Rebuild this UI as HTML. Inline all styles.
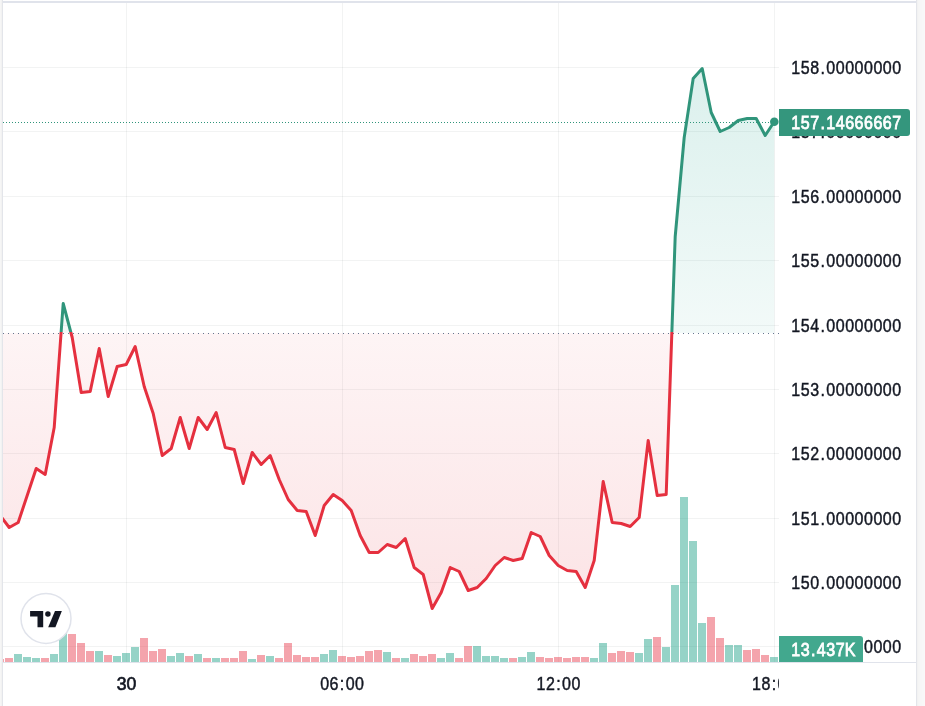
<!DOCTYPE html>
<html><head><meta charset="utf-8"><title>Chart</title>
<style>
html,body{margin:0;padding:0;background:#f7f7f7;width:925px;height:706px;overflow:hidden}
svg{display:block;will-change:transform}
text{font-family:"Liberation Sans",Arial,sans-serif}
</style></head><body>
<svg width="925" height="706" viewBox="0 0 925 706" shape-rendering="auto">
<defs>
<linearGradient id="fillg" gradientUnits="userSpaceOnUse" x1="0" y1="3" x2="0" y2="662">
<stop offset="0" stop-color="rgba(8,153,129,0.17)"/>
<stop offset="0.5008" stop-color="rgba(8,153,129,0.05)"/>
<stop offset="0.5008" stop-color="rgba(229,48,63,0.05)"/>
<stop offset="1" stop-color="rgba(229,48,63,0.15)"/>
</linearGradient>
<linearGradient id="lineg" gradientUnits="userSpaceOnUse" x1="0" y1="3" x2="0" y2="662">
<stop offset="0" stop-color="#30957b"/>
<stop offset="0.5000" stop-color="#30957b"/>
<stop offset="0.5000" stop-color="#e5303f"/>
<stop offset="1" stop-color="#e5303f"/>
</linearGradient>
<clipPath id="pane"><rect x="3" y="3" width="776" height="659"/></clipPath>
<clipPath id="taxis"><rect x="3" y="663" width="776" height="43"/></clipPath>
</defs>
<rect x="2" y="0" width="915" height="706" fill="#ffffff"/>
<rect x="2" y="1" width="915" height="2" fill="#e0e3eb"/>
<rect x="2" y="0" width="1" height="706" fill="#e3e5ea"/>
<rect x="916" y="0" width="1" height="706" fill="#e3e5ea"/>
<rect x="0" y="0" width="1" height="706" fill="#f6f6f6"/>
<rect x="1" y="0" width="1" height="706" fill="#f2f2f2"/>
<rect x="917" y="0" width="1" height="706" fill="#f2f2f2"/>
<rect x="918" y="0" width="1" height="706" fill="#f5f5f5"/>
<rect x="919" y="0" width="1" height="706" fill="#f6f6f6"/>
<rect x="920" y="0" width="2" height="706" fill="#f7f7f7"/>
<rect x="922" y="0" width="2" height="706" fill="#f8f8f8"/>
<rect x="924" y="0" width="1" height="706" fill="#f9f9f9"/>
<g clip-path="url(#pane)">

<rect x="3" y="67" width="776" height="1" fill="rgba(42,46,57,0.06)"/>
<rect x="3" y="131" width="776" height="1" fill="rgba(42,46,57,0.06)"/>
<rect x="3" y="196" width="776" height="1" fill="rgba(42,46,57,0.06)"/>
<rect x="3" y="260" width="776" height="1" fill="rgba(42,46,57,0.06)"/>
<rect x="3" y="325" width="776" height="1" fill="rgba(42,46,57,0.06)"/>
<rect x="3" y="389" width="776" height="1" fill="rgba(42,46,57,0.06)"/>
<rect x="3" y="453" width="776" height="1" fill="rgba(42,46,57,0.06)"/>
<rect x="3" y="518" width="776" height="1" fill="rgba(42,46,57,0.06)"/>
<rect x="3" y="582" width="776" height="1" fill="rgba(42,46,57,0.06)"/>
<rect x="3" y="646" width="776" height="1" fill="rgba(42,46,57,0.06)"/>
<rect x="126" y="3" width="1" height="659" fill="rgba(42,46,57,0.06)"/>
<rect x="342" y="3" width="1" height="659" fill="rgba(42,46,57,0.06)"/>
<rect x="558" y="3" width="1" height="659" fill="rgba(42,46,57,0.06)"/>
<rect x="774" y="3" width="1" height="659" fill="rgba(42,46,57,0.06)"/>
<path d="M0.20,333.0 L0.20,515.50 L9.20,527.50 L18.20,522.50 L27.20,495.50 L36.20,468.50 L45.20,474.50 L54.20,427.50 L63.20,303.50 L72.20,337.50 L81.20,392.50 L90.20,391.50 L99.20,348.50 L108.20,396.50 L117.20,366.50 L126.20,364.50 L135.20,346.50 L144.20,386.50 L153.20,413.50 L162.20,455.50 L171.20,448.50 L180.20,417.50 L189.20,448.50 L198.20,417.50 L207.20,429.50 L216.20,412.50 L225.20,447.50 L234.20,449.50 L243.20,483.50 L252.20,452.50 L261.20,464.50 L270.20,455.50 L279.20,479.50 L288.20,499.50 L297.20,510.50 L306.20,511.50 L315.20,535.50 L324.20,505.50 L333.20,494.50 L342.20,500.50 L351.20,510.50 L360.20,535.50 L369.20,552.50 L378.20,552.50 L387.20,544.50 L396.20,547.50 L405.20,538.50 L414.20,567.50 L423.20,574.50 L432.20,608.50 L441.20,592.50 L450.20,567.50 L459.20,571.50 L468.20,590.50 L477.20,587.50 L486.20,578.50 L495.20,565.50 L504.20,557.50 L513.20,560.50 L522.20,558.50 L531.20,532.50 L540.20,536.50 L549.20,555.50 L558.20,565.50 L567.20,570.50 L576.20,571.50 L585.20,587.50 L594.20,560.50 L603.20,481.50 L612.20,522.50 L621.20,523.50 L630.20,526.50 L639.20,517.50 L648.20,440.50 L657.20,495.50 L666.20,494.50 L675.20,236.50 L684.20,137.50 L693.20,78.50 L702.20,68.50 L711.20,112.50 L720.20,131.50 L729.20,127.50 L738.20,120.50 L747.20,118.50 L756.20,118.50 L765.20,135.50 L774.20,121.70 L774.20,333.0 Z" fill="url(#fillg)"/>
<rect x="-4" y="659" width="8" height="3" fill="rgba(231,53,71,0.45)"/>
<rect x="5" y="658" width="8" height="4" fill="rgba(231,53,71,0.45)"/>
<rect x="14" y="654" width="8" height="8" fill="rgba(22,157,131,0.45)"/>
<rect x="23" y="657" width="8" height="5" fill="rgba(22,157,131,0.45)"/>
<rect x="32" y="658" width="8" height="4" fill="rgba(22,157,131,0.45)"/>
<rect x="41" y="658" width="8" height="4" fill="rgba(231,53,71,0.45)"/>
<rect x="50" y="654" width="8" height="8" fill="rgba(22,157,131,0.45)"/>
<rect x="59" y="628" width="8" height="34" fill="rgba(22,157,131,0.45)"/>
<rect x="68" y="634" width="8" height="28" fill="rgba(231,53,71,0.45)"/>
<rect x="77" y="643" width="8" height="19" fill="rgba(231,53,71,0.45)"/>
<rect x="86" y="651" width="8" height="11" fill="rgba(231,53,71,0.45)"/>
<rect x="95" y="651" width="8" height="11" fill="rgba(22,157,131,0.45)"/>
<rect x="104" y="655" width="8" height="7" fill="rgba(231,53,71,0.45)"/>
<rect x="113" y="656" width="8" height="6" fill="rgba(22,157,131,0.45)"/>
<rect x="122" y="653" width="8" height="9" fill="rgba(22,157,131,0.45)"/>
<rect x="131" y="647" width="8" height="15" fill="rgba(22,157,131,0.45)"/>
<rect x="140" y="638" width="8" height="24" fill="rgba(231,53,71,0.45)"/>
<rect x="149" y="651" width="8" height="11" fill="rgba(231,53,71,0.45)"/>
<rect x="158" y="649" width="8" height="13" fill="rgba(231,53,71,0.45)"/>
<rect x="167" y="656" width="8" height="6" fill="rgba(22,157,131,0.45)"/>
<rect x="176" y="653" width="8" height="9" fill="rgba(22,157,131,0.45)"/>
<rect x="185" y="656" width="8" height="6" fill="rgba(231,53,71,0.45)"/>
<rect x="194" y="654" width="8" height="8" fill="rgba(22,157,131,0.45)"/>
<rect x="203" y="658" width="8" height="4" fill="rgba(231,53,71,0.45)"/>
<rect x="212" y="658" width="8" height="4" fill="rgba(22,157,131,0.45)"/>
<rect x="221" y="658" width="8" height="4" fill="rgba(231,53,71,0.45)"/>
<rect x="230" y="658" width="8" height="4" fill="rgba(231,53,71,0.45)"/>
<rect x="239" y="651" width="8" height="11" fill="rgba(231,53,71,0.45)"/>
<rect x="248" y="659" width="8" height="3" fill="rgba(22,157,131,0.45)"/>
<rect x="257" y="655" width="8" height="7" fill="rgba(231,53,71,0.45)"/>
<rect x="266" y="656" width="8" height="6" fill="rgba(22,157,131,0.45)"/>
<rect x="275" y="658" width="8" height="4" fill="rgba(231,53,71,0.45)"/>
<rect x="284" y="643" width="8" height="19" fill="rgba(231,53,71,0.45)"/>
<rect x="293" y="655" width="8" height="7" fill="rgba(231,53,71,0.45)"/>
<rect x="302" y="657" width="8" height="5" fill="rgba(231,53,71,0.45)"/>
<rect x="311" y="657" width="8" height="5" fill="rgba(231,53,71,0.45)"/>
<rect x="320" y="654" width="8" height="8" fill="rgba(22,157,131,0.45)"/>
<rect x="329" y="650" width="8" height="12" fill="rgba(22,157,131,0.45)"/>
<rect x="338" y="656" width="8" height="6" fill="rgba(231,53,71,0.45)"/>
<rect x="347" y="657" width="8" height="5" fill="rgba(231,53,71,0.45)"/>
<rect x="356" y="656" width="8" height="6" fill="rgba(231,53,71,0.45)"/>
<rect x="365" y="651" width="8" height="11" fill="rgba(231,53,71,0.45)"/>
<rect x="374" y="650" width="8" height="12" fill="rgba(231,53,71,0.45)"/>
<rect x="383" y="652" width="8" height="10" fill="rgba(22,157,131,0.45)"/>
<rect x="392" y="658" width="8" height="4" fill="rgba(231,53,71,0.45)"/>
<rect x="401" y="658" width="8" height="4" fill="rgba(22,157,131,0.45)"/>
<rect x="410" y="654" width="8" height="8" fill="rgba(231,53,71,0.45)"/>
<rect x="419" y="656" width="8" height="6" fill="rgba(231,53,71,0.45)"/>
<rect x="428" y="654" width="8" height="8" fill="rgba(231,53,71,0.45)"/>
<rect x="437" y="658" width="8" height="4" fill="rgba(22,157,131,0.45)"/>
<rect x="446" y="653" width="8" height="9" fill="rgba(22,157,131,0.45)"/>
<rect x="455" y="658" width="8" height="4" fill="rgba(231,53,71,0.45)"/>
<rect x="464" y="646" width="8" height="16" fill="rgba(231,53,71,0.45)"/>
<rect x="473" y="646" width="8" height="16" fill="rgba(22,157,131,0.45)"/>
<rect x="482" y="656" width="8" height="6" fill="rgba(22,157,131,0.45)"/>
<rect x="491" y="656" width="8" height="6" fill="rgba(22,157,131,0.45)"/>
<rect x="500" y="658" width="8" height="4" fill="rgba(22,157,131,0.45)"/>
<rect x="509" y="658" width="8" height="4" fill="rgba(231,53,71,0.45)"/>
<rect x="518" y="657" width="8" height="5" fill="rgba(22,157,131,0.45)"/>
<rect x="527" y="652" width="8" height="10" fill="rgba(22,157,131,0.45)"/>
<rect x="536" y="657" width="8" height="5" fill="rgba(231,53,71,0.45)"/>
<rect x="545" y="658" width="8" height="4" fill="rgba(231,53,71,0.45)"/>
<rect x="554" y="657" width="8" height="5" fill="rgba(231,53,71,0.45)"/>
<rect x="563" y="658" width="8" height="4" fill="rgba(231,53,71,0.45)"/>
<rect x="572" y="657" width="8" height="5" fill="rgba(231,53,71,0.45)"/>
<rect x="581" y="657" width="8" height="5" fill="rgba(231,53,71,0.45)"/>
<rect x="590" y="658" width="8" height="4" fill="rgba(22,157,131,0.45)"/>
<rect x="599" y="643" width="8" height="19" fill="rgba(22,157,131,0.45)"/>
<rect x="608" y="653" width="8" height="9" fill="rgba(231,53,71,0.45)"/>
<rect x="617" y="651" width="8" height="11" fill="rgba(231,53,71,0.45)"/>
<rect x="626" y="652" width="8" height="10" fill="rgba(231,53,71,0.45)"/>
<rect x="635" y="653" width="8" height="9" fill="rgba(22,157,131,0.45)"/>
<rect x="644" y="639" width="8" height="23" fill="rgba(22,157,131,0.45)"/>
<rect x="653" y="637" width="8" height="25" fill="rgba(231,53,71,0.45)"/>
<rect x="662" y="647" width="8" height="15" fill="rgba(22,157,131,0.45)"/>
<rect x="671" y="585" width="8" height="77" fill="rgba(22,157,131,0.45)"/>
<rect x="680" y="497" width="8" height="165" fill="rgba(22,157,131,0.45)"/>
<rect x="689" y="541" width="8" height="121" fill="rgba(22,157,131,0.45)"/>
<rect x="698" y="623" width="8" height="39" fill="rgba(22,157,131,0.45)"/>
<rect x="707" y="617" width="8" height="45" fill="rgba(231,53,71,0.45)"/>
<rect x="716" y="638" width="8" height="24" fill="rgba(231,53,71,0.45)"/>
<rect x="725" y="645" width="8" height="17" fill="rgba(22,157,131,0.45)"/>
<rect x="734" y="645" width="8" height="17" fill="rgba(22,157,131,0.45)"/>
<rect x="743" y="650" width="8" height="12" fill="rgba(231,53,71,0.45)"/>
<rect x="752" y="649" width="8" height="13" fill="rgba(231,53,71,0.45)"/>
<rect x="761" y="655" width="8" height="7" fill="rgba(231,53,71,0.45)"/>
<rect x="770" y="657" width="8" height="5" fill="rgba(22,157,131,0.45)"/>
<path d="M3,333h1v1h-1zM8,333h1v1h-1zM13,333h1v1h-1zM18,333h1v1h-1zM23,333h1v1h-1zM28,333h1v1h-1zM33,333h1v1h-1zM38,333h1v1h-1zM43,333h1v1h-1zM48,333h1v1h-1zM53,333h1v1h-1zM58,333h1v1h-1zM63,333h1v1h-1zM68,333h1v1h-1zM73,333h1v1h-1zM78,333h1v1h-1zM83,333h1v1h-1zM88,333h1v1h-1zM93,333h1v1h-1zM98,333h1v1h-1zM103,333h1v1h-1zM108,333h1v1h-1zM113,333h1v1h-1zM118,333h1v1h-1zM123,333h1v1h-1zM128,333h1v1h-1zM133,333h1v1h-1zM138,333h1v1h-1zM143,333h1v1h-1zM148,333h1v1h-1zM153,333h1v1h-1zM158,333h1v1h-1zM163,333h1v1h-1zM168,333h1v1h-1zM173,333h1v1h-1zM178,333h1v1h-1zM183,333h1v1h-1zM188,333h1v1h-1zM193,333h1v1h-1zM198,333h1v1h-1zM203,333h1v1h-1zM208,333h1v1h-1zM213,333h1v1h-1zM218,333h1v1h-1zM223,333h1v1h-1zM228,333h1v1h-1zM233,333h1v1h-1zM238,333h1v1h-1zM243,333h1v1h-1zM248,333h1v1h-1zM253,333h1v1h-1zM258,333h1v1h-1zM263,333h1v1h-1zM268,333h1v1h-1zM273,333h1v1h-1zM278,333h1v1h-1zM283,333h1v1h-1zM288,333h1v1h-1zM293,333h1v1h-1zM298,333h1v1h-1zM303,333h1v1h-1zM308,333h1v1h-1zM313,333h1v1h-1zM318,333h1v1h-1zM323,333h1v1h-1zM328,333h1v1h-1zM333,333h1v1h-1zM338,333h1v1h-1zM343,333h1v1h-1zM348,333h1v1h-1zM353,333h1v1h-1zM358,333h1v1h-1zM363,333h1v1h-1zM368,333h1v1h-1zM373,333h1v1h-1zM378,333h1v1h-1zM383,333h1v1h-1zM388,333h1v1h-1zM393,333h1v1h-1zM398,333h1v1h-1zM403,333h1v1h-1zM408,333h1v1h-1zM413,333h1v1h-1zM418,333h1v1h-1zM423,333h1v1h-1zM428,333h1v1h-1zM433,333h1v1h-1zM438,333h1v1h-1zM443,333h1v1h-1zM448,333h1v1h-1zM453,333h1v1h-1zM458,333h1v1h-1zM463,333h1v1h-1zM468,333h1v1h-1zM473,333h1v1h-1zM478,333h1v1h-1zM483,333h1v1h-1zM488,333h1v1h-1zM493,333h1v1h-1zM498,333h1v1h-1zM503,333h1v1h-1zM508,333h1v1h-1zM513,333h1v1h-1zM518,333h1v1h-1zM523,333h1v1h-1zM528,333h1v1h-1zM533,333h1v1h-1zM538,333h1v1h-1zM543,333h1v1h-1zM548,333h1v1h-1zM553,333h1v1h-1zM558,333h1v1h-1zM563,333h1v1h-1zM568,333h1v1h-1zM573,333h1v1h-1zM578,333h1v1h-1zM583,333h1v1h-1zM588,333h1v1h-1zM593,333h1v1h-1zM598,333h1v1h-1zM603,333h1v1h-1zM608,333h1v1h-1zM613,333h1v1h-1zM618,333h1v1h-1zM623,333h1v1h-1zM628,333h1v1h-1zM633,333h1v1h-1zM638,333h1v1h-1zM643,333h1v1h-1zM648,333h1v1h-1zM653,333h1v1h-1zM658,333h1v1h-1zM663,333h1v1h-1zM668,333h1v1h-1zM673,333h1v1h-1zM678,333h1v1h-1zM683,333h1v1h-1zM688,333h1v1h-1zM693,333h1v1h-1zM698,333h1v1h-1zM703,333h1v1h-1zM708,333h1v1h-1zM713,333h1v1h-1zM718,333h1v1h-1zM723,333h1v1h-1zM728,333h1v1h-1zM733,333h1v1h-1zM738,333h1v1h-1zM743,333h1v1h-1zM748,333h1v1h-1zM753,333h1v1h-1zM758,333h1v1h-1zM763,333h1v1h-1zM768,333h1v1h-1zM773,333h1v1h-1zM778,333h1v1h-1z" fill="#66758f"/>
<polyline points="0.20,515.50 9.20,527.50 18.20,522.50 27.20,495.50 36.20,468.50 45.20,474.50 54.20,427.50 63.20,303.50 72.20,337.50 81.20,392.50 90.20,391.50 99.20,348.50 108.20,396.50 117.20,366.50 126.20,364.50 135.20,346.50 144.20,386.50 153.20,413.50 162.20,455.50 171.20,448.50 180.20,417.50 189.20,448.50 198.20,417.50 207.20,429.50 216.20,412.50 225.20,447.50 234.20,449.50 243.20,483.50 252.20,452.50 261.20,464.50 270.20,455.50 279.20,479.50 288.20,499.50 297.20,510.50 306.20,511.50 315.20,535.50 324.20,505.50 333.20,494.50 342.20,500.50 351.20,510.50 360.20,535.50 369.20,552.50 378.20,552.50 387.20,544.50 396.20,547.50 405.20,538.50 414.20,567.50 423.20,574.50 432.20,608.50 441.20,592.50 450.20,567.50 459.20,571.50 468.20,590.50 477.20,587.50 486.20,578.50 495.20,565.50 504.20,557.50 513.20,560.50 522.20,558.50 531.20,532.50 540.20,536.50 549.20,555.50 558.20,565.50 567.20,570.50 576.20,571.50 585.20,587.50 594.20,560.50 603.20,481.50 612.20,522.50 621.20,523.50 630.20,526.50 639.20,517.50 648.20,440.50 657.20,495.50 666.20,494.50 675.20,236.50 684.20,137.50 693.20,78.50 702.20,68.50 711.20,112.50 720.20,131.50 729.20,127.50 738.20,120.50 747.20,118.50 756.20,118.50 765.20,135.50 774.20,121.70" fill="none" stroke="url(#lineg)" stroke-width="3" stroke-linejoin="round" stroke-linecap="round"/>
<path d="M3,122h1v1h-1zM6,122h1v1h-1zM9,122h1v1h-1zM12,122h1v1h-1zM15,122h1v1h-1zM18,122h1v1h-1zM21,122h1v1h-1zM24,122h1v1h-1zM27,122h1v1h-1zM30,122h1v1h-1zM33,122h1v1h-1zM36,122h1v1h-1zM39,122h1v1h-1zM42,122h1v1h-1zM45,122h1v1h-1zM48,122h1v1h-1zM51,122h1v1h-1zM54,122h1v1h-1zM57,122h1v1h-1zM60,122h1v1h-1zM63,122h1v1h-1zM66,122h1v1h-1zM69,122h1v1h-1zM72,122h1v1h-1zM75,122h1v1h-1zM78,122h1v1h-1zM81,122h1v1h-1zM84,122h1v1h-1zM87,122h1v1h-1zM90,122h1v1h-1zM93,122h1v1h-1zM96,122h1v1h-1zM99,122h1v1h-1zM102,122h1v1h-1zM105,122h1v1h-1zM108,122h1v1h-1zM111,122h1v1h-1zM114,122h1v1h-1zM117,122h1v1h-1zM120,122h1v1h-1zM123,122h1v1h-1zM126,122h1v1h-1zM129,122h1v1h-1zM132,122h1v1h-1zM135,122h1v1h-1zM138,122h1v1h-1zM141,122h1v1h-1zM144,122h1v1h-1zM147,122h1v1h-1zM150,122h1v1h-1zM153,122h1v1h-1zM156,122h1v1h-1zM159,122h1v1h-1zM162,122h1v1h-1zM165,122h1v1h-1zM168,122h1v1h-1zM171,122h1v1h-1zM174,122h1v1h-1zM177,122h1v1h-1zM180,122h1v1h-1zM183,122h1v1h-1zM186,122h1v1h-1zM189,122h1v1h-1zM192,122h1v1h-1zM195,122h1v1h-1zM198,122h1v1h-1zM201,122h1v1h-1zM204,122h1v1h-1zM207,122h1v1h-1zM210,122h1v1h-1zM213,122h1v1h-1zM216,122h1v1h-1zM219,122h1v1h-1zM222,122h1v1h-1zM225,122h1v1h-1zM228,122h1v1h-1zM231,122h1v1h-1zM234,122h1v1h-1zM237,122h1v1h-1zM240,122h1v1h-1zM243,122h1v1h-1zM246,122h1v1h-1zM249,122h1v1h-1zM252,122h1v1h-1zM255,122h1v1h-1zM258,122h1v1h-1zM261,122h1v1h-1zM264,122h1v1h-1zM267,122h1v1h-1zM270,122h1v1h-1zM273,122h1v1h-1zM276,122h1v1h-1zM279,122h1v1h-1zM282,122h1v1h-1zM285,122h1v1h-1zM288,122h1v1h-1zM291,122h1v1h-1zM294,122h1v1h-1zM297,122h1v1h-1zM300,122h1v1h-1zM303,122h1v1h-1zM306,122h1v1h-1zM309,122h1v1h-1zM312,122h1v1h-1zM315,122h1v1h-1zM318,122h1v1h-1zM321,122h1v1h-1zM324,122h1v1h-1zM327,122h1v1h-1zM330,122h1v1h-1zM333,122h1v1h-1zM336,122h1v1h-1zM339,122h1v1h-1zM342,122h1v1h-1zM345,122h1v1h-1zM348,122h1v1h-1zM351,122h1v1h-1zM354,122h1v1h-1zM357,122h1v1h-1zM360,122h1v1h-1zM363,122h1v1h-1zM366,122h1v1h-1zM369,122h1v1h-1zM372,122h1v1h-1zM375,122h1v1h-1zM378,122h1v1h-1zM381,122h1v1h-1zM384,122h1v1h-1zM387,122h1v1h-1zM390,122h1v1h-1zM393,122h1v1h-1zM396,122h1v1h-1zM399,122h1v1h-1zM402,122h1v1h-1zM405,122h1v1h-1zM408,122h1v1h-1zM411,122h1v1h-1zM414,122h1v1h-1zM417,122h1v1h-1zM420,122h1v1h-1zM423,122h1v1h-1zM426,122h1v1h-1zM429,122h1v1h-1zM432,122h1v1h-1zM435,122h1v1h-1zM438,122h1v1h-1zM441,122h1v1h-1zM444,122h1v1h-1zM447,122h1v1h-1zM450,122h1v1h-1zM453,122h1v1h-1zM456,122h1v1h-1zM459,122h1v1h-1zM462,122h1v1h-1zM465,122h1v1h-1zM468,122h1v1h-1zM471,122h1v1h-1zM474,122h1v1h-1zM477,122h1v1h-1zM480,122h1v1h-1zM483,122h1v1h-1zM486,122h1v1h-1zM489,122h1v1h-1zM492,122h1v1h-1zM495,122h1v1h-1zM498,122h1v1h-1zM501,122h1v1h-1zM504,122h1v1h-1zM507,122h1v1h-1zM510,122h1v1h-1zM513,122h1v1h-1zM516,122h1v1h-1zM519,122h1v1h-1zM522,122h1v1h-1zM525,122h1v1h-1zM528,122h1v1h-1zM531,122h1v1h-1zM534,122h1v1h-1zM537,122h1v1h-1zM540,122h1v1h-1zM543,122h1v1h-1zM546,122h1v1h-1zM549,122h1v1h-1zM552,122h1v1h-1zM555,122h1v1h-1zM558,122h1v1h-1zM561,122h1v1h-1zM564,122h1v1h-1zM567,122h1v1h-1zM570,122h1v1h-1zM573,122h1v1h-1zM576,122h1v1h-1zM579,122h1v1h-1zM582,122h1v1h-1zM585,122h1v1h-1zM588,122h1v1h-1zM591,122h1v1h-1zM594,122h1v1h-1zM597,122h1v1h-1zM600,122h1v1h-1zM603,122h1v1h-1zM606,122h1v1h-1zM609,122h1v1h-1zM612,122h1v1h-1zM615,122h1v1h-1zM618,122h1v1h-1zM621,122h1v1h-1zM624,122h1v1h-1zM627,122h1v1h-1zM630,122h1v1h-1zM633,122h1v1h-1zM636,122h1v1h-1zM639,122h1v1h-1zM642,122h1v1h-1zM645,122h1v1h-1zM648,122h1v1h-1zM651,122h1v1h-1zM654,122h1v1h-1zM657,122h1v1h-1zM660,122h1v1h-1zM663,122h1v1h-1zM666,122h1v1h-1zM669,122h1v1h-1zM672,122h1v1h-1zM675,122h1v1h-1zM678,122h1v1h-1zM681,122h1v1h-1zM684,122h1v1h-1zM687,122h1v1h-1zM690,122h1v1h-1zM693,122h1v1h-1zM696,122h1v1h-1zM699,122h1v1h-1zM702,122h1v1h-1zM705,122h1v1h-1zM708,122h1v1h-1zM711,122h1v1h-1zM714,122h1v1h-1zM717,122h1v1h-1zM720,122h1v1h-1zM723,122h1v1h-1zM726,122h1v1h-1zM729,122h1v1h-1zM732,122h1v1h-1zM735,122h1v1h-1zM738,122h1v1h-1zM741,122h1v1h-1zM744,122h1v1h-1zM747,122h1v1h-1zM750,122h1v1h-1zM753,122h1v1h-1zM756,122h1v1h-1zM759,122h1v1h-1zM762,122h1v1h-1zM765,122h1v1h-1zM768,122h1v1h-1zM771,122h1v1h-1zM774,122h1v1h-1zM777,122h1v1h-1z" fill="#30957b"/>
<circle cx="774.3000000000001" cy="121.7" r="4.3" fill="#30957b"/>
</g>
<rect x="3" y="662" width="913" height="1" fill="#e0e3eb"/>
<text transform="scale(0.89,1)" x="894.18 904.77 915.37 924.38 933.39 943.99 954.59 965.18 975.78 986.38 996.98 1007.58" y="74.0" text-anchor="middle" font-size="18.0" fill="#131722" stroke="#131722" stroke-width="0.45">158.00000000</text>
<text transform="scale(0.89,1)" x="894.18 904.77 915.37 924.38 933.39 943.99 954.59 965.18 975.78 986.38 996.98 1007.58" y="138.0" text-anchor="middle" font-size="18.0" fill="#131722" stroke="#131722" stroke-width="0.45">157.00000000</text>
<text transform="scale(0.89,1)" x="894.18 904.77 915.37 924.38 933.39 943.99 954.59 965.18 975.78 986.38 996.98 1007.58" y="203.0" text-anchor="middle" font-size="18.0" fill="#131722" stroke="#131722" stroke-width="0.45">156.00000000</text>
<text transform="scale(0.89,1)" x="894.18 904.77 915.37 924.38 933.39 943.99 954.59 965.18 975.78 986.38 996.98 1007.58" y="267.0" text-anchor="middle" font-size="18.0" fill="#131722" stroke="#131722" stroke-width="0.45">155.00000000</text>
<text transform="scale(0.89,1)" x="894.18 904.77 915.37 924.38 933.39 943.99 954.59 965.18 975.78 986.38 996.98 1007.58" y="332.0" text-anchor="middle" font-size="18.0" fill="#131722" stroke="#131722" stroke-width="0.45">154.00000000</text>
<text transform="scale(0.89,1)" x="894.18 904.77 915.37 924.38 933.39 943.99 954.59 965.18 975.78 986.38 996.98 1007.58" y="396.0" text-anchor="middle" font-size="18.0" fill="#131722" stroke="#131722" stroke-width="0.45">153.00000000</text>
<text transform="scale(0.89,1)" x="894.18 904.77 915.37 924.38 933.39 943.99 954.59 965.18 975.78 986.38 996.98 1007.58" y="460.0" text-anchor="middle" font-size="18.0" fill="#131722" stroke="#131722" stroke-width="0.45">152.00000000</text>
<text transform="scale(0.89,1)" x="894.18 904.77 915.37 924.38 933.39 943.99 954.59 965.18 975.78 986.38 996.98 1007.58" y="525.0" text-anchor="middle" font-size="18.0" fill="#131722" stroke="#131722" stroke-width="0.45">151.00000000</text>
<text transform="scale(0.89,1)" x="894.18 904.77 915.37 924.38 933.39 943.99 954.59 965.18 975.78 986.38 996.98 1007.58" y="589.0" text-anchor="middle" font-size="18.0" fill="#131722" stroke="#131722" stroke-width="0.45">150.00000000</text>
<text transform="scale(0.89,1)" x="894.18 904.77 915.37 924.38 933.39 943.99 954.59 965.18 975.78 986.38 996.98 1007.58" y="653.0" text-anchor="middle" font-size="18.0" fill="#131722" stroke="#131722" stroke-width="0.45">149.00000000</text>
<g clip-path="url(#taxis)">
<text x="126.6" y="690" text-anchor="middle" font-size="18" fill="#131722" stroke="#131722" stroke-width="0.65" textLength="19.6" lengthAdjust="spacingAndGlyphs">30</text>
<text transform="scale(0.89,1)" x="364.77 375.37 384.38 393.39 403.99" y="690" text-anchor="middle" font-size="18.0" fill="#131722" stroke="#131722" stroke-width="0.45">06:00</text>
<text transform="scale(0.89,1)" x="607.81 618.41 627.42 636.43 647.02" y="690" text-anchor="middle" font-size="18.0" fill="#131722" stroke="#131722" stroke-width="0.45">12:00</text>
<text transform="scale(0.89,1)" x="849.94 860.54 869.55 878.56 889.16" y="690" text-anchor="middle" font-size="18.0" fill="#131722" stroke="#131722" stroke-width="0.45">18:00</text>
</g>
<path d="M779,109 H907 a3,3 0 0 1 3,3 V133 a3,3 0 0 1 -3,3 H779 Z" fill="#34967d"/>
<text transform="scale(0.89,1)" x="894.18 904.77 915.37 924.38 933.39 943.99 954.59 965.18 975.78 986.38 996.98 1007.58" y="129.2" text-anchor="middle" font-size="18.0" fill="#ffffff" stroke="#ffffff" stroke-width="0.8">157.14666667</text>
<path d="M779,636 H860 a3,3 0 0 1 3,3 V662 H779 Z" fill="#42a88e"/>
<text transform="scale(0.89,1)" x="894.18 904.77 913.78 922.79 933.39 943.99 955.25" y="655.6" text-anchor="middle" font-size="18.0" fill="#ffffff" stroke="#ffffff" stroke-width="0.8">13.437K</text>
<circle cx="46.0" cy="618.4" r="25.0" fill="#ffffff" stroke="#e0e3eb" stroke-width="1.5"/>
<g fill="#131722">
<path d="M30.1,611.1H43.2V627.3H37.5V616.6H30.1Z"/>
<circle cx="47.9" cy="614.0" r="2.75"/>
<path d="M55.0,611.1H61.85L55.4,627.3H48.2Z"/>
</g>
</svg>
</body></html>
